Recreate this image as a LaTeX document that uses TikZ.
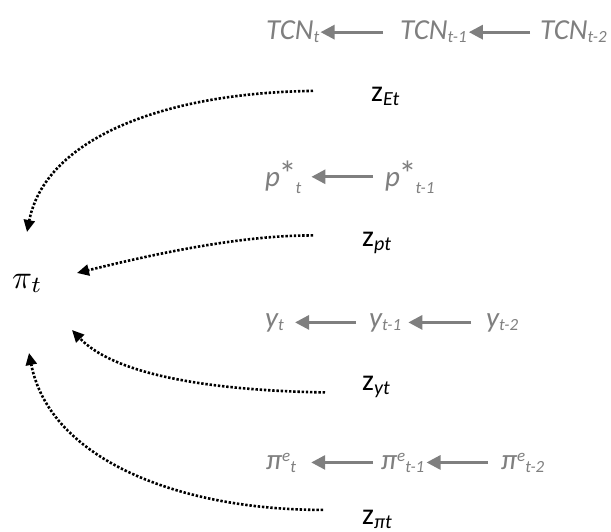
\documentclass[tikz,border=0pt]{standalone}
\usepackage{fontspec}
\setmainfont{Carlito}
\usetikzlibrary{arrows.meta,calc}
\definecolor{lg}{HTML}{7F7F7F}
\newcommand{\lo}[1]{\raisebox{-3pt}{\fontsize{17}{17}\selectfont #1}}
\newcommand{\lop}[1]{\raisebox{-7pt}{\fontsize{17}{17}\selectfont #1}}
\newcommand{\hi}[1]{\raisebox{8pt}{\fontsize{17}{17}\selectfont #1}}
\newcommand{\bigstr}{\kern-1.5pt{\fontsize{36}{36}\selectfont\upshape *}\kern-1pt}
\newcommand{\zsub}[1]{\raisebox{-4pt}{\fontsize{20}{20}\selectfont\itshape #1}}
\begin{document}
\begin{tikzpicture}[x=1pt,y=-1pt,
 glabel/.style={inner sep=0pt, anchor=base west, text=lg, font=\fontsize{29}{29}\selectfont\itshape},
 zlabel/.style={inner sep=0pt, anchor=base west, font=\fontsize{30}{30}\selectfont},
 garrow/.style={draw=lg, line width=3pt, -{Triangle[length=14pt,width=14pt]}},
 darrow/.style={draw=black, line width=2.6pt, dash pattern=on 2.4pt off 1.8pt, -{Triangle[length=12pt,width=11pt]}}]
\useasboundingbox (0,0) rectangle (611,532);
% TCN row
\node[glabel] (tcn0) at (266,40) {TCN\lo{t}};
\node[glabel] (tcn1) at (400,40) {TCN\lo{t-1}};
\node[glabel] (tcn2) at (540,40) {TCN\lo{t-2}};
\draw[garrow, shorten <=17pt, shorten >=1pt] (tcn1.west) -- (tcn0.east);
\draw[garrow, shorten <=10pt, shorten >=2pt] (tcn2.west) -- (tcn1.east);
\node[zlabel] (zE) at (371,102) {z\zsub{Et}};
% p* row
\node[glabel] (p0) at (265,186) {p\bigstr\lop{t}};
\node[glabel] (p1) at (385,186) {p\bigstr\lop{t-1}};
\draw[garrow, shorten <=12pt, shorten >=10pt] (p1.west) -- (p0.east);
\node[zlabel] (zp) at (362,247) {z\zsub{pt}};
% pi_t
\node[inner sep=0pt, anchor=base west] (pi) at (12,288) {\scalebox{3.3}{$\pi_t$}};
% y row
\node[glabel] (y0) at (265,327) {y\lo{t}};
\node[glabel] (y1) at (369,327) {y\lo{t-1}};
\node[glabel] (y2) at (486,327) {y\lo{t-2}};
\draw[garrow, shorten <=13pt, shorten >=11pt] (y1.west) -- (y0.east);
\draw[garrow, shorten <=15pt, shorten >=7pt] (y2.west) -- (y1.east);
\node[zlabel] (zy) at (362,390) {z\zsub{yt}};
% pi^e row
\node[glabel] (e0) at (266,469) {π\hi{e}\lo{t}};
\node[glabel] (e1) at (381,469) {π\hi{e}\lo{t-1}};
\node[glabel] (e2) at (501,469) {π\hi{e}\lo{t-2}};
\draw[garrow, shorten <=8pt, shorten >=15pt] (e1.west) -- (e0.east);
\draw[garrow, shorten <=13pt, shorten >=2pt] (e2.west) -- (e1.east);
\node[zlabel] (zpi) at (362,524) {z\zsub{πt}};
% dotted curves
\coordinate (t1) at (27,232);
\coordinate (t2) at (77,273);
\coordinate (t3) at (72,330);
\coordinate (t4) at (29,353);
\draw[darrow] ($(zE.west)+(-58,-6)$) .. controls (160,93) and (45,140) .. (t1);
\draw[darrow] ($(zp.west)+(-49,-8)$) .. controls (240,235) and (150,255) .. (t2);
\draw[darrow] ($(zy.west)+(-37,6)$) .. controls (190,390) and (110,370) .. (t3);
\draw[darrow] ($(zpi.west)+(-39,-9)$) .. controls (180,510) and (50,460) .. (t4);
\end{tikzpicture}
\end{document}
